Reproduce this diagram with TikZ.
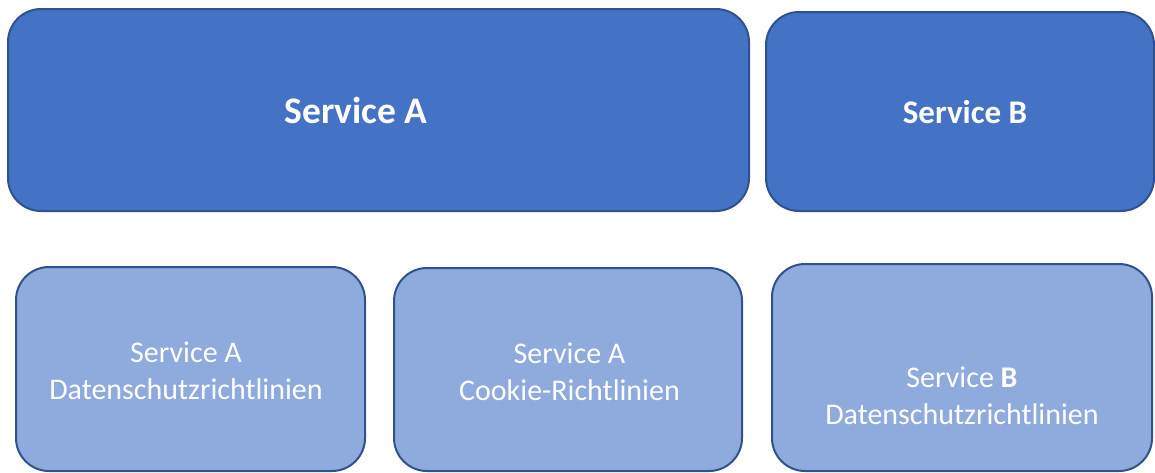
\documentclass[tikz,border=0pt]{standalone}
\usepackage{fontspec}
\setmainfont{Carlito}
\definecolor{darkfill}{HTML}{4472C4}
\definecolor{lightfill}{HTML}{8FAADC}
\definecolor{edgeblue}{HTML}{2F528F}
\begin{document}
\begin{tikzpicture}[x=1pt,y=-1pt,
  svcbox/.style={draw=edgeblue, line width=2pt, rounded corners=33pt, rectangle, inner sep=0pt, outer sep=0pt},
  topbox/.style={svcbox, fill=darkfill},
  subbox/.style={svcbox, fill=lightfill},
  label/.style={text=white, inner sep=0pt, align=center, font=\fontsize{30}{36.6}\selectfont}
]
\useasboundingbox (0,0) rectangle (1155,472);
\node[topbox, minimum width=741pt, minimum height=202pt] (boxA) at (378.5,110) {};
\node[topbox, minimum width=388pt, minimum height=199pt] (boxB) at (960,111.5) {};
\node[subbox, minimum width=349pt, minimum height=204pt] (sub1) at (190.5,369) {};
\node[subbox, minimum width=348pt, minimum height=203pt] (sub2) at (568,369.5) {};
\node[subbox, minimum width=380pt, minimum height=207pt] (sub3) at (962,367.5) {};

\node[label, font=\fontsize{37.5}{44}\selectfont\bfseries] (tA) at (356,110) {Service A};
\node[label, font=\fontsize{33}{40}\selectfont\bfseries] (tB) at (965,112) {Service B};
\node[label] (t1) at (186,371) {Service A\\Datenschutzrichtlinien};
\node[label] (t2) at (569.5,372) {Service A\\Cookie-Richtlinien};
\node[label] (t3) at (962,395.5) {Service \textbf{B}\\Datenschutzrichtlinien};
\end{tikzpicture}
\end{document}
